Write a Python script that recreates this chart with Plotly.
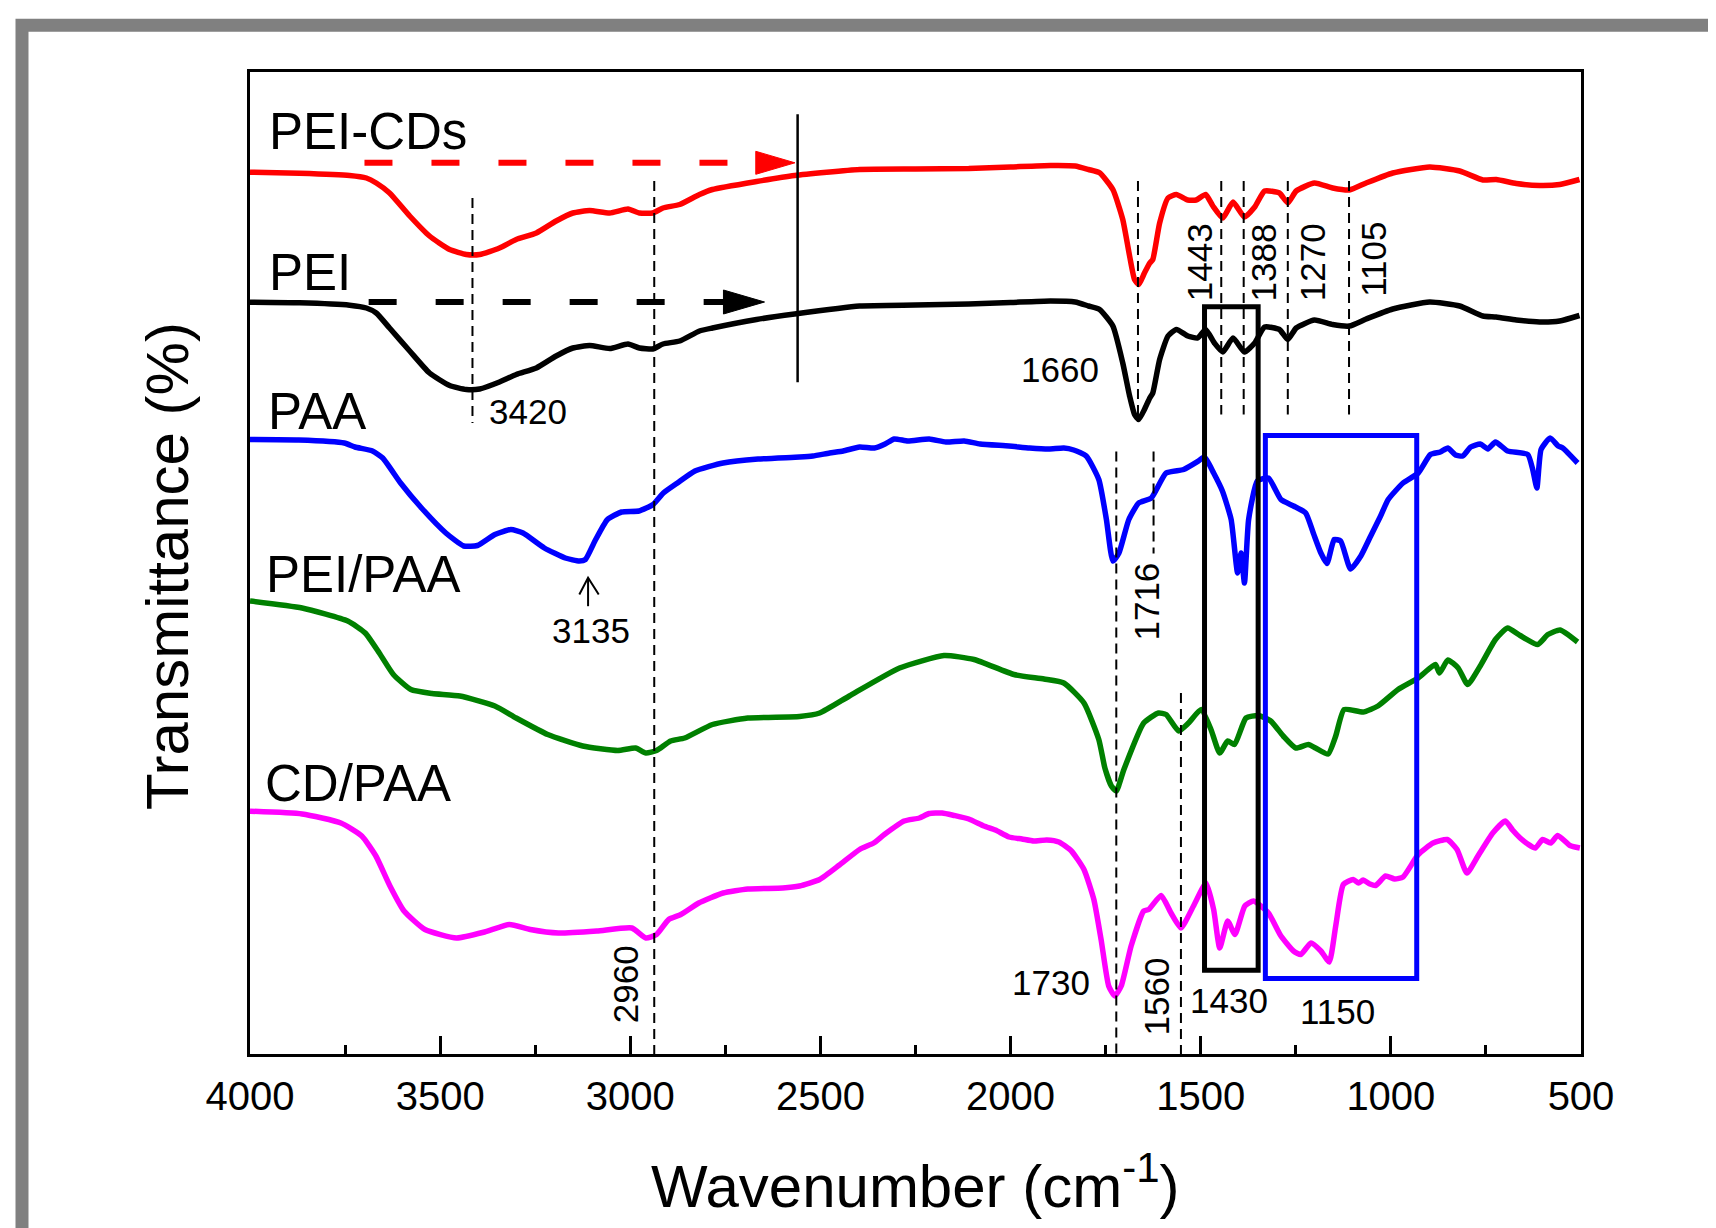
import plotly.graph_objects as go

# ---------------- data (wavenumber cm-1, offset transmittance a.u.) ----------------
red_wn = [4000, 3870, 3738, 3694, 3668, 3633, 3580, 3528, 3475, 3431, 3396, 3344, 3300, 3247, 3195, 3151,
          3107, 3054, 3006, 2976, 2941, 2914, 2870, 2818, 2784, 2668, 2568, 2397, 2250, 2110, 2000, 1895,
          1830, 1795, 1766, 1731, 1705, 1687, 1674, 1663, 1648, 1634, 1626, 1608, 1586, 1564, 1534, 1512,
          1487, 1468, 1442, 1415, 1385, 1358, 1332, 1293, 1271, 1249, 1201, 1153, 1109, 1065, 995, 898,
          819, 758, 723, 670, 609, 556, 504]
red_t = [88.18, 88.08, 87.86, 87.6, 87.1, 86.1, 83.8, 81.8, 80.45, 79.95, 79.95, 80.6, 81.45, 82.1, 83.3, 84.1,
         84.35, 84.1, 84.5, 84.1, 84.1, 84.6, 84.95, 85.95, 86.45, 87.25, 87.85, 88.45, 88.5, 88.55, 88.7, 88.85,
         88.8, 88.45, 88.12, 86.45, 83.45, 79.8, 77.45, 76.95, 78.1, 79.1, 79.45, 83.1, 85.6, 85.95, 85.4, 85.4,
         85.95, 84.8, 83.6, 85.2, 83.7, 84.7, 86.3, 86.1, 85.1, 86.3, 87.1, 86.6, 86.4, 87.1, 88.1, 88.7,
         88.3, 87.4, 87.45, 87.05, 86.85, 86.95, 87.45]

black_wn = [4000, 3870, 3738, 3694, 3668, 3633, 3580, 3528, 3475, 3431, 3396, 3344, 3300, 3247, 3195, 3151,
            3107, 3054, 3006, 2976, 2941, 2914, 2870, 2818, 2784, 2668, 2568, 2397, 2250, 2110, 2000, 1895,
            1830, 1795, 1766, 1731, 1705, 1687, 1674, 1663, 1648, 1634, 1626, 1608, 1586, 1564, 1534, 1508,
            1487, 1464, 1442, 1415, 1385, 1358, 1332, 1293, 1271, 1249, 1201, 1153, 1109, 1065, 995, 898,
            819, 758, 723, 670, 609, 556, 504]
black_t = [75.18, 75.12, 74.88, 74.6, 74.1, 72.6, 70.3, 68.1, 66.85, 66.45, 66.5, 67.2, 67.95, 68.6, 69.8, 70.6,
           70.85, 70.55, 71.0, 70.6, 70.5, 71.0, 71.3, 72.3, 72.6, 73.45, 74.0, 74.8, 74.9, 75.0, 75.15, 75.3,
           75.2, 74.8, 74.45, 72.8, 69.1, 65.8, 63.95, 63.45, 64.45, 65.6, 66.1, 69.45, 71.8, 72.45, 71.8, 71.6,
           72.45, 71.1, 70.2, 71.6, 70.2, 71.1, 72.7, 72.45, 71.45, 72.6, 73.4, 72.95, 72.8, 73.5, 74.5, 75.2,
           74.8, 73.8, 73.7, 73.4, 73.2, 73.3, 73.85]

blue_wn = [4000, 3872, 3752, 3724, 3678, 3651, 3604, 3549, 3485, 3438, 3402, 3356, 3314, 3282, 3226, 3171,
           3134, 3118, 3093, 3060, 3023, 2977, 2940, 2913, 2876, 2830, 2756, 2664, 2555, 2520, 2476, 2440,
           2397, 2358, 2330, 2306, 2270, 2214, 2170, 2122, 2080, 2004, 1950, 1899, 1860, 1834, 1801, 1768,
           1748, 1731, 1715, 1689, 1663, 1630, 1591, 1545, 1506, 1490, 1466, 1443, 1420, 1403, 1394, 1385,
           1374, 1351, 1322, 1289, 1256, 1224, 1204, 1184, 1168, 1149, 1132, 1106, 1079, 1053, 1027, 1007,
           968, 928, 896, 870, 850, 830, 811, 790, 765, 745, 725, 693, 640, 627, 616, 605, 581, 560, 548, 509]
blue_t = [61.45, 61.4, 61.1, 60.7, 60.3, 59.6, 57.1, 54.6, 52.1, 50.8, 50.85, 51.95, 52.45, 52.1, 50.6, 49.6,
          49.3, 49.45, 51.3, 53.45, 54.2, 54.3, 54.95, 56.1, 57.1, 58.3, 59.1, 59.5, 59.7, 59.8, 60.1, 60.3,
          60.7, 60.6, 61.0, 61.5, 61.3, 61.5, 61.2, 61.3, 61.0, 60.8, 60.6, 60.5, 60.6, 60.4, 59.8, 57.45,
          53.45, 49.3, 50.1, 53.45, 55.1, 55.6, 58.1, 58.45, 59.3, 59.7, 58.1, 56.3, 53.45, 48.1, 50.1, 47.1,
          53.45, 57.3, 57.6, 55.45, 54.8, 54.1, 52.1, 50.1, 49.05, 51.45, 51.3, 48.5, 49.8, 51.8, 53.8, 55.45,
          57.1, 58.1, 59.95, 60.2, 60.6, 59.9, 59.8, 60.7, 61.0, 60.5, 61.2, 60.3, 59.95, 58.45, 56.6, 60.45,
          61.6, 60.8, 60.6, 59.1]

green_wn = [4000, 3863, 3743, 3697, 3660, 3623, 3577, 3521, 3448, 3356, 3300, 3217, 3125, 3033, 2986, 2959,
            2931, 2894, 2857, 2784, 2691, 2555, 2502, 2424, 2292, 2175, 2096, 1991, 1912, 1860, 1807, 1768,
            1752, 1735, 1722, 1702, 1650, 1611, 1591, 1558, 1532, 1499, 1473, 1450, 1429, 1411, 1381, 1348,
            1316, 1283, 1250, 1217, 1198, 1165, 1145, 1123, 1073, 1034, 981, 928, 883, 872, 850, 823,
            798, 765, 725, 693, 660, 614, 587, 555, 509]
green_t = [45.3, 44.6, 43.3, 42.1, 40.1, 37.95, 36.45, 36.05, 35.8, 34.8, 33.6, 31.95, 30.8, 30.35, 30.6, 30.1,
           30.35, 31.3, 31.6, 32.95, 33.6, 33.75, 34.1, 35.8, 38.6, 39.85, 39.45, 37.95, 37.5, 37.1, 35.1, 31.45,
           28.6, 26.8, 26.3, 28.45, 33.1, 34.1, 33.95, 32.3, 33.1, 34.45, 32.45, 30.1, 31.3, 30.95, 33.6, 33.85,
           33.3, 31.8, 30.6, 30.95, 30.6, 30.0, 31.8, 34.45, 34.2, 34.8, 36.45, 37.6, 38.95, 38.1, 39.4, 38.6,
           36.95, 38.8, 41.45, 42.6, 41.85, 40.95, 41.95, 42.4, 41.2]

magenta_wn = [4000, 3863, 3761, 3706, 3669, 3632, 3595, 3540, 3457, 3383, 3318, 3263, 3189, 3088, 2996, 2959,
              2931, 2899, 2867, 2820, 2756, 2691, 2599, 2555, 2502, 2450, 2397, 2360, 2332, 2280, 2240, 2214,
              2180, 2148, 2110, 2070, 2040, 2004, 1970, 1939, 1905, 1873, 1840, 1807, 1781, 1762, 1742, 1726,
              1709, 1683, 1650, 1637, 1604, 1578, 1552, 1519, 1486, 1466, 1450, 1429, 1410, 1384, 1361, 1322,
              1289, 1256, 1237, 1210, 1184, 1162, 1145, 1125, 1099, 1085, 1073, 1055, 1040, 1014, 990, 968,
              928, 889, 852, 826, 800, 771, 732, 699, 680, 660, 640, 620, 601, 580, 561, 529, 503]
magenta_t = [24.28, 24.0, 23.1, 21.8, 19.8, 16.8, 14.3, 12.45, 11.6, 12.2, 12.95, 12.45, 12.1, 12.3, 12.6, 11.6,
             11.95, 13.45, 13.95, 15.1, 16.1, 16.5, 16.6, 16.8, 17.45, 18.9, 20.45, 21.1, 21.95, 23.3, 23.6, 24.05,
             24.1, 23.85, 23.5, 22.8, 22.4, 21.7, 21.5, 21.3, 21.4, 21.2, 20.3, 18.45, 15.45, 11.45, 6.8, 5.8,
             6.8, 10.8, 14.3, 14.45, 15.85, 14.1, 12.6, 14.8, 17.1, 14.45, 10.6, 13.3, 11.95, 14.8, 15.3, 14.1,
             11.8, 10.3, 9.95, 11.1, 10.3, 9.2, 12.8, 16.95, 17.45, 17.1, 17.4, 17.0, 16.85, 17.8, 17.5, 17.7,
             19.95, 21.1, 21.45, 20.45, 18.1, 19.8, 22.1, 23.3, 22.4, 21.6, 21.0, 20.6, 21.45, 21.1, 21.85, 20.85, 20.6]

series = [
    ("PEI-CDs", red_wn, red_t, "#ff0000"),
    ("PEI", black_wn, black_t, "#000000"),
    ("PAA", blue_wn, blue_t, "#0000ff"),
    ("PEI/PAA", green_wn, green_t, "#008000"),
    ("CD/PAA", magenta_wn, magenta_t, "#ff00ff"),
]

# series labels: (text, wn at left edge, y at middle)
series_labels = [("PEI-CDs", 3955, 92.3), ("PEI", 3955, 78.2), ("PAA", 3958, 64.25),
                 ("PEI/PAA", 3963, 47.95), ("CD/PAA", 3967, 27.1)]

# peak labels: (text, wn centre, y centre, angle)
peak_labels = [("3420", 3269, 64.28, 0), ("1660", 1870, 68.48, 0), ("3135", 3104, 42.37, 0),
               ("1716", 1643, 45.28, -90), ("1443", 1504, 79.2, -90), ("1388", 1335, 79.2, -90),
               ("1270", 1207, 79.2, -90), ("1105", 1046, 79.45, -90), ("2960", 3012, 6.95, -90),
               ("1730", 1894, 7.12, 0), ("1560", 1617, 5.78, -90), ("1430", 1426, 5.37, 0),
               ("1150", 1140, 4.28, 0)]

# dashed guide lines: (wn, y top, y bottom)
guides = [(3415, 85.6, 63.1), (2937, 87.3, 0), (1665, 87.3, 63.45), (1446, 87.3, 63.95),
          (1387, 87.3, 63.95), (1271, 87.3, 63.95), (1110, 87.3, 63.95), (1722, 60.25, 0),
          (1624, 60.25, 50.05), (1552, 36.1, 0)]

# highlighted regions: (wn0, wn1, y0, y1, colour)
boxes = [(1490, 1349, 8.38, 74.72, "#000000"), (1330, 932, 7.55, 61.85, "#0000ff")]

# dashed range arrows: (wn start, wn line end, wn head base, wn tip, y, half-height, colour)
range_arrows = [(3699, 2660, 2670, 2567, 89.12, 1.15, "#ff0000"),
                (3688, 2730, 2755, 2647, 75.2, 1.2, "#000000")]
solid_marker = (2560, 67.17, 93.98)
arrow_3135 = (3111, 44.78, 47.62, 3134, 3083, 45.95)

xticks = [4000, 3500, 3000, 2500, 2000, 1500, 1000, 500]
xminor = [3750, 3250, 2750, 2250, 1750, 1250, 750]

FONT = "Liberation Sans, Arial, sans-serif"

fig = go.Figure()
for name, wn, t, col in series:
    fig.add_trace(go.Scatter(x=wn, y=t, mode="lines", name=name,
                             line=dict(color=col, width=5.5, shape="spline", smoothing=0.5),
                             showlegend=False, hoverinfo="skip"))

shapes = []
for wn, y0, y1 in guides:
    shapes.append(dict(type="line", xref="x", yref="y", x0=wn, x1=wn, y0=y0, y1=y1,
                       line=dict(color="black", width=2, dash="10px,6px")))
for w0, w1, y0, y1, col in boxes:
    shapes.append(dict(type="rect", xref="x", yref="y", x0=w0, x1=w1, y0=y0, y1=y1,
                       line=dict(color=col, width=5), fillcolor="rgba(0,0,0,0)"))
for ws, we, wb, wt, y, hh, col in range_arrows:
    shapes.append(dict(type="line", xref="x", yref="y", x0=ws, x1=we, y0=y, y1=y,
                       line=dict(color=col, width=6, dash="28px,39px")))
    shapes.append(dict(type="path", xref="x", yref="y",
                       path=f"M {wb} {y - hh} L {wt} {y} L {wb} {y + hh} Z",
                       line=dict(color=col, width=1), fillcolor=col))
sw, sy0, sy1 = solid_marker
shapes.append(dict(type="line", xref="x", yref="y", x0=sw, x1=sw, y0=sy0, y1=sy1,
                   line=dict(color="black", width=2.5)))
aw, ay0, ay1, awl, awr, ayh = arrow_3135
shapes.append(dict(type="line", xref="x", yref="y", x0=aw, x1=aw, y0=ay0, y1=ay1,
                   line=dict(color="black", width=2)))
shapes.append(dict(type="path", xref="x", yref="y",
                   path=f"M {awl} {ayh} L {aw} {ay1} L {awr} {ayh}",
                   line=dict(color="black", width=2)))
# grey outer frame
shapes.append(dict(type="rect", xref="paper", yref="paper", x0=-0.1713, x1=1.17, y0=-0.26, y1=1.0476,
                   line=dict(color="#808080", width=13), fillcolor="rgba(0,0,0,0)"))

annotations = []
for txt, wn, y in series_labels:
    annotations.append(dict(x=wn, y=y, xref="x", yref="y", text=txt, showarrow=False,
                            xanchor="left", yanchor="middle", font=dict(family=FONT, size=51, color="black")))
for txt, wn, y, ang in peak_labels:
    annotations.append(dict(x=wn, y=y, xref="x", yref="y", text=txt, showarrow=False, textangle=ang,
                            xanchor="center", yanchor="middle", font=dict(family=FONT, size=35, color="black")))
annotations.append(dict(x=0.5, y=-0.13, xref="paper", yref="paper", text="Wavenumber (cm<sup>-1</sup>)",
                        showarrow=False, xanchor="center", yanchor="middle",
                        font=dict(family=FONT, size=60, color="black")))
annotations.append(dict(x=-0.0616, y=0.497, xref="paper", yref="paper", text="Transmittance (%)",
                        showarrow=False, xanchor="center", yanchor="middle", textangle=-90,
                        font=dict(family=FONT, size=60, color="black")))

# the page body adds an 8px offset, so the margins are reduced by 8px on the left/top
fig.update_layout(
    width=1716, height=1228,
    margin=dict(l=242, r=143, t=64, b=182),
    paper_bgcolor="white", plot_bgcolor="white",
    shapes=shapes, annotations=annotations,
    xaxis=dict(range=[4000, 500], tickmode="array", tickvals=xticks, ticktext=[str(v) for v in xticks],
               ticks="inside", ticklen=18, tickwidth=2.5, tickcolor="black", ticklabelstandoff=5,
               minor=dict(tickmode="array", tickvals=xminor, ticks="inside", ticklen=9, tickwidth=2.5,
                          tickcolor="black", showgrid=False),
               showline=True, linecolor="black", linewidth=2.5, mirror=True,
               showgrid=False, zeroline=False,
               tickfont=dict(family=FONT, size=40, color="black")),
    yaxis=dict(range=[0, 98.2], showticklabels=False, ticks="", showline=True, linecolor="black",
               linewidth=2.5, mirror=True, showgrid=False, zeroline=False),
)

fig.write_html("out.html")
